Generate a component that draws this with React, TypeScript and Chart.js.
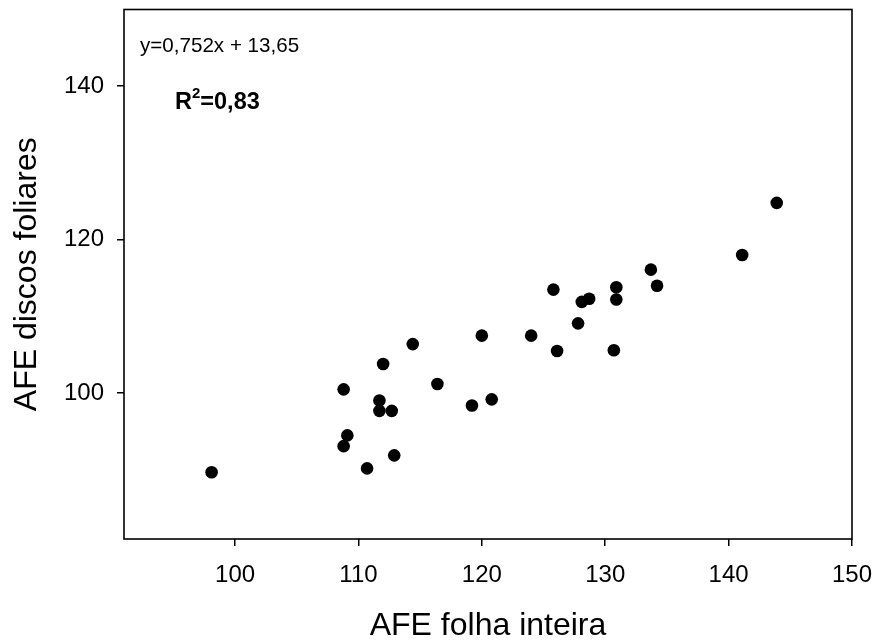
import { useEffect, useRef } from "react";
import { Chart, registerables } from "chart.js";

Chart.register(...registerables);

// AFE folha inteira (x) vs AFE discos foliares (y)
const xValues = [
  98.1, 108.8, 108.8, 109.1, 110.7, 111.7, 111.7, 112.0, 112.7, 112.9,
  114.4, 116.4, 119.2, 120.0, 120.8, 124.0, 125.8, 126.1, 127.8, 128.1,
  128.7, 130.7, 130.9, 130.9, 133.7, 134.2, 141.1, 143.9,
];
const yValues = [
  89.7, 100.5, 93.1, 94.5, 90.2, 99.05, 97.7, 103.8, 97.7, 91.9,
  106.4, 101.2, 98.4, 107.5, 99.2, 107.5, 113.5, 105.5, 109.1, 111.9,
  112.3, 105.6, 113.8, 112.2, 116.1, 114.0, 118.0, 124.8,
];

const xTicks = [100, 110, 120, 130, 140, 150];
const yTicks = [100, 120, 140];
const xRange = [91, 150];
const yRange = [81, 150];

const xTitle = "AFE folha inteira";
const yTitle = "AFE discos foliares";
const equationText = "y=0,752x + 13,65";
const r2Main = "R";
const r2Sup = "2";
const r2Value = "=0,83";

const FONT = "'Liberation Sans', Arial, Helvetica, sans-serif";

const boxAndTextPlugin = {
  id: "boxAndText",
  beforeDatasetsDraw(chart: any) {
    const { ctx, chartArea } = chart;
    ctx.save();
    ctx.strokeStyle = "#000";
    ctx.lineWidth = 1.6;
    ctx.strokeRect(
      chartArea.left,
      chartArea.top,
      chartArea.right - chartArea.left,
      chartArea.bottom - chartArea.top
    );
    ctx.restore();
  },
  afterDraw(chart: any) {
    const { ctx, chartArea } = chart;
    ctx.save();
    ctx.fillStyle = "#000";
    ctx.textBaseline = "alphabetic";
    ctx.textAlign = "left";
    ctx.font = `20.6px ${FONT}`;
    ctx.fillText(equationText, chartArea.left + 16, chartArea.top + 42);
    const rx = chartArea.left + 51;
    const ry = chartArea.top + 99.5;
    ctx.font = `bold 23.5px ${FONT}`;
    ctx.fillText(r2Main, rx, ry);
    const w1 = ctx.measureText(r2Main).width;
    ctx.font = `bold 15px ${FONT}`;
    ctx.fillText(r2Sup, rx + w1, ry - 11.5);
    const w2 = ctx.measureText(r2Sup).width;
    ctx.font = `bold 23.5px ${FONT}`;
    ctx.fillText(r2Value, rx + w1 + w2, ry);
    ctx.restore();
  },
};

const zeroPadding = (s: any) => {
  s.paddingTop = 0;
  s.paddingBottom = 0;
  s.paddingLeft = 0;
  s.paddingRight = 0;
};

export default function App() {
  const canvasRef = useRef<HTMLCanvasElement | null>(null);

  useEffect(() => {
    document.body.style.margin = "0";
    const canvas = canvasRef.current;
    if (!canvas) return;
    const chart = new Chart(canvas, {
      type: "scatter",
      data: {
        datasets: [
          {
            data: xValues.map((x, i) => ({ x, y: yValues[i] })),
            backgroundColor: "#000",
            borderColor: "#000",
            borderWidth: 0,
            pointRadius: 6.3,
            pointHoverRadius: 6.3,
          },
        ],
      },
      options: {
        responsive: false,
        animation: false,
        events: [],
        layout: { padding: { top: 9.5, right: 24, left: 0, bottom: 0 } },
        plugins: {
          legend: { display: false },
          tooltip: { enabled: false },
        },
        scales: {
          x: {
            type: "linear",
            min: xRange[0],
            max: xRange[1],
            afterBuildTicks: (s: any) => {
              s.ticks = xTicks.map((v) => ({ value: v }));
            },
            afterFit: (s: any) => {
              s.height = 102;
              zeroPadding(s);
            },
            border: { display: false },
            grid: {
              drawOnChartArea: false,
              drawTicks: true,
              tickLength: 7,
              color: "#000",
              lineWidth: 1.5,
            },
            ticks: {
              color: "#000",
              font: { family: FONT, size: 24 },
              padding: 15,
              maxRotation: 0,
            },
            title: {
              display: true,
              text: xTitle,
              color: "#000",
              font: { family: FONT, size: 32, lineHeight: 1 },
              padding: { top: 0, bottom: -1 },
            },
          },
          y: {
            type: "linear",
            min: yRange[0],
            max: yRange[1],
            afterBuildTicks: (s: any) => {
              s.ticks = yTicks.map((v) => ({ value: v }));
            },
            afterFit: (s: any) => {
              s.width = 124;
              zeroPadding(s);
            },
            border: { display: false },
            grid: {
              drawOnChartArea: false,
              drawTicks: true,
              tickLength: 7,
              color: "#000",
              lineWidth: 1.5,
            },
            ticks: {
              color: "#000",
              font: { family: FONT, size: 24 },
              padding: 13,
            },
            title: {
              display: true,
              text: yTitle,
              color: "#000",
              font: { family: FONT, size: 32, lineHeight: 1 },
              padding: { top: 11, bottom: 0 },
            },
          },
        },
      },
      plugins: [boxAndTextPlugin],
    });
    return () => chart.destroy();
  }, []);

  return (
    <div style={{ width: 876, height: 641 }}>
      <canvas ref={canvasRef} width={876} height={641} />
    </div>
  );
}
